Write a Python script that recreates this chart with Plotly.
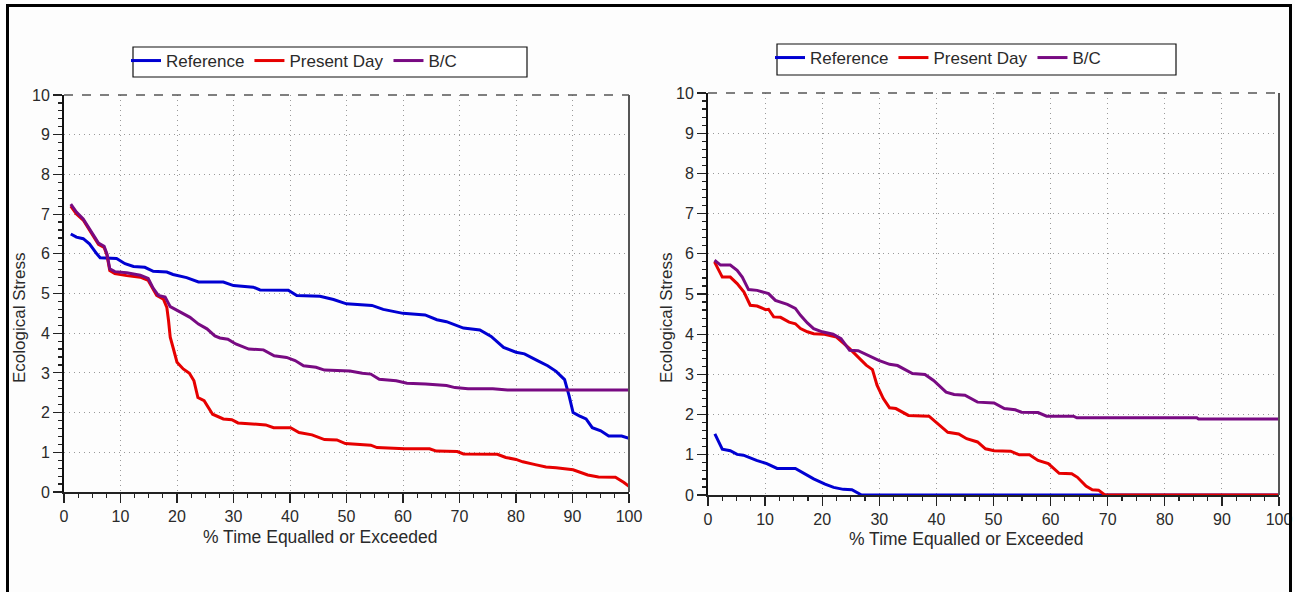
import plotly.graph_objects as go

# ---------------- data ----------------
# Left panel
L_ref_x = [1.2, 2.2, 3.4, 4.5, 5.8, 6.4, 9.3, 10.8, 12.3, 14.3, 15.8, 18.2, 19.3, 21.7, 23.8, 28.2, 30.0,
           33.5, 34.7, 39.7, 41.2, 45.3, 47.7, 50.0, 54.5, 56.5, 60.0, 63.9, 66.0, 67.7, 70.7, 73.6, 75.6,
           77.8, 80.0, 81.5, 83.8, 85.6, 87.1, 88.6, 89.4, 90.1, 91.2, 92.4, 93.5, 95.0, 96.4, 98.7, 100]
L_ref_y = [6.5, 6.42, 6.38, 6.25, 6.0, 5.9, 5.88, 5.75, 5.68, 5.66, 5.56, 5.54, 5.48, 5.4, 5.29, 5.29, 5.2,
           5.16, 5.09, 5.08, 4.95, 4.93, 4.85, 4.74, 4.7, 4.6, 4.5, 4.46, 4.34, 4.29, 4.13, 4.08, 3.92,
           3.64, 3.52, 3.48, 3.31, 3.18, 3.04, 2.83, 2.42, 2.0, 1.92, 1.84, 1.62, 1.54, 1.41, 1.41, 1.35]

L_pd_x = [1.2, 2.2, 3.4, 4.3, 5.2, 6.1, 7.1, 7.6, 8.1, 9.0, 11.1, 13.5, 14.9, 15.8, 16.4, 17.6, 18.2, 18.5,
          18.8, 19.3, 20.0, 21.1, 22.2, 23.0, 23.7, 24.8, 25.6, 26.3, 28.2, 29.7, 30.8, 33.4, 35.7, 37.1,
          40.1, 41.6, 43.9, 46.1, 48.3, 49.8, 54.3, 55.4, 60.3, 64.7, 65.9, 69.6, 70.7, 76.7, 78.2, 80.0,
          81.2, 83.4, 85.3, 87.1, 90.1, 92.7, 94.6, 97.6, 99.1, 100]
L_pd_y = [7.2, 7.0, 6.85, 6.64, 6.43, 6.24, 6.16, 5.97, 5.58, 5.5, 5.45, 5.41, 5.33, 5.12, 4.95, 4.86, 4.65,
          4.32, 3.9, 3.64, 3.27, 3.1, 2.99, 2.8, 2.38, 2.3, 2.13, 1.96, 1.84, 1.82, 1.74, 1.72, 1.69, 1.62,
          1.62, 1.5, 1.44, 1.32, 1.31, 1.22, 1.18, 1.12, 1.09, 1.09, 1.03, 1.02, 0.96, 0.95, 0.87, 0.82,
          0.76, 0.69, 0.63, 0.61, 0.56, 0.43, 0.38, 0.37, 0.24, 0.14]

L_bc_x = [1.2, 2.2, 3.4, 4.3, 5.2, 6.1, 7.1, 7.6, 8.1, 9.0, 11.1, 13.5, 14.9, 15.8, 16.7, 17.9, 18.8, 20.5,
          22.3, 23.8, 25.3, 26.7, 27.6, 29.0, 30.4, 32.7, 35.3, 37.2, 39.4, 40.9, 42.4, 44.6, 46.1, 50.6,
          52.8, 54.3, 55.8, 58.8, 60.7, 64.0, 65.1, 67.7, 69.2, 71.5, 75.9, 78.5, 100]
L_bc_y = [7.25, 7.05, 6.88, 6.67, 6.46, 6.27, 6.19, 6.0, 5.62, 5.55, 5.52, 5.46, 5.38, 5.13, 4.95, 4.91, 4.67,
          4.53, 4.4, 4.23, 4.11, 3.93, 3.88, 3.85, 3.73, 3.6, 3.58, 3.43, 3.39, 3.31, 3.18, 3.14, 3.07, 3.05,
          2.99, 2.97, 2.84, 2.8, 2.74, 2.72, 2.71, 2.68, 2.63, 2.6, 2.6, 2.57, 2.57]

# Right panel
R_ref_x = [1.2, 1.7, 2.5, 3.9, 5.1, 6.2, 8.5, 10.3, 12.1, 15.3, 16.8, 18.5, 20.5, 22.0, 23.7, 25.2, 26.9, 100]
R_ref_y = [1.52, 1.36, 1.14, 1.1, 1.01, 0.99, 0.86, 0.78, 0.66, 0.66, 0.53, 0.40, 0.27, 0.19, 0.14, 0.13, 0.0, 0.0]

R_pd_x = [1.14, 2.5, 3.9, 5.1, 6.3, 7.4, 8.6, 10.1, 10.6, 11.5, 12.7, 14.2, 15.3, 16.2, 17.4, 18.5, 20.4,
          22.5, 24.8, 26.3, 27.7, 28.8, 29.6, 30.7, 31.8, 32.9, 35.1, 38.7, 40.2, 42.0, 43.9, 45.3, 47.2,
          48.6, 50.1, 53.0, 54.5, 56.3, 57.8, 59.6, 61.5, 63.7, 64.7, 66.2, 67.3, 68.4, 69.5, 100]
R_pd_y = [5.8, 5.42, 5.42, 5.26, 5.05, 4.72, 4.7, 4.61, 4.62, 4.43, 4.42, 4.3, 4.26, 4.14, 4.06, 4.01, 4.0,
          3.93, 3.64, 3.43, 3.23, 3.12, 2.73, 2.4, 2.17, 2.15, 1.98, 1.96, 1.77, 1.56, 1.52, 1.4, 1.32,
          1.15, 1.1, 1.09, 1.0, 1.0, 0.86, 0.78, 0.54, 0.53, 0.44, 0.22, 0.13, 0.12, 0.0, 0.0]

R_bc_x = [1.14, 2.2, 3.9, 5.1, 6.0, 7.1, 8.6, 10.6, 11.8, 13.9, 15.3, 16.2, 17.4, 18.5, 20.0, 21.9, 23.3,
          24.8, 26.3, 28.1, 29.9, 31.8, 33.2, 35.8, 38.0, 39.5, 41.7, 43.1, 45.0, 47.2, 50.1, 51.9, 53.8,
          54.9, 57.8, 59.3, 64.0, 64.6, 85.6, 85.9, 100]
R_bc_y = [5.84, 5.72, 5.72, 5.59, 5.42, 5.11, 5.09, 5.01, 4.84, 4.74, 4.64, 4.47, 4.28, 4.14, 4.06, 4.0, 3.89,
          3.6, 3.59, 3.47, 3.35, 3.25, 3.22, 3.02, 3.0, 2.85, 2.56, 2.5, 2.48, 2.31, 2.29, 2.15, 2.12,
          2.06, 2.05, 1.96, 1.96, 1.92, 1.92, 1.89, 1.89]

SERIES = ["Reference", "Present Day", "B/C"]
COLORS = ["#0000d2", "#e60000", "#780a82"]
X_TITLE = "% Time Equalled or Exceeded"
Y_TITLE = "Ecological Stress"

# ---------------- figure ----------------
W, H = 1295, 592
FONT = "Arial, Liberation Sans, sans-serif"
TXT = "#2a2a2a"

def px(x):
    return x / W

def py(y):
    return 1 - y / H

fig = go.Figure()

panels = [
    ("x", "y", "legend", [(L_ref_x, L_ref_y), (L_pd_x, L_pd_y), (L_bc_x, L_bc_y)]),
    ("x2", "y2", "legend2", [(R_ref_x, R_ref_y), (R_pd_x, R_pd_y), (R_bc_x, R_bc_y)]),
]
for xa, ya, lg, data in panels:
    for name, col, (xs, ys) in zip(SERIES, COLORS, data):
        fig.add_trace(go.Scatter(x=xs, y=ys, name=name, mode="lines",
                                 line=dict(color=col, width=3),
                                 xaxis=xa, yaxis=ya, legend=lg, showlegend=True))

GRID = dict(showgrid=True, gridcolor="#9a9a9a", griddash="1px,4px", gridwidth=1)

def xaxis(domain, anchor):
    return dict(domain=domain, anchor=anchor, range=[0, 100], tick0=0, dtick=10,
                ticks="outside", ticklen=9, tickwidth=1.2, tickcolor="#222",
                minor=dict(dtick=2.5, ticks="outside", ticklen=4, tickwidth=1.2, tickcolor="#222", showgrid=False),
                showline=True, linecolor="#222", linewidth=2, zeroline=False,
                tickfont=dict(family=FONT, size=16, color=TXT), fixedrange=True, **GRID)

def yaxis(domain, anchor):
    return dict(domain=domain, anchor=anchor, range=[0, 10], tick0=0, dtick=1,
                ticks="outside", ticklen=9, tickwidth=1.2, tickcolor="#222",
                minor=dict(dtick=0.2, ticks="outside", ticklen=4, tickwidth=1.2, tickcolor="#222", showgrid=False),
                showline=True, linecolor="#111", linewidth=2, zeroline=False,
                tickfont=dict(family=FONT, size=16, color=TXT), fixedrange=True, **GRID)

L_X = [px(64), px(629)]
L_Y = [py(492), py(95)]
R_X = [px(708), px(1279)]
R_Y = [py(495), py(93)]

legend_common = dict(orientation="h", xanchor="left", yanchor="top",
                     bgcolor="rgba(0,0,0,0)", borderwidth=0,
                     font=dict(family=FONT, size=17, color=TXT),
                     itemwidth=30, tracegroupgap=0, itemclick=False, itemdoubleclick=False)

shapes = []
# legend boxes
shapes.append(dict(type="rect", xref="paper", yref="paper", x0=px(133), x1=px(527), y0=py(77), y1=py(47),
                   line=dict(color="#111", width=1.2), fillcolor="white", layer="below"))
shapes.append(dict(type="rect", xref="paper", yref="paper", x0=px(777), x1=px(1176), y0=py(75), y1=py(44),
                   line=dict(color="#111", width=1.2), fillcolor="white", layer="below"))
# top dashed border and right solid border of each plot area
for xr, yr in (("x", "y"), ("x2", "y2")):
    shapes.append(dict(type="line", xref=xr + " domain", yref=yr + " domain", x0=0, x1=1, y0=1, y1=1,
                       line=dict(color="#555", width=1.5, dash="dash")))
    shapes.append(dict(type="line", xref=xr + " domain", yref=yr + " domain", x0=1, x1=1, y0=0, y1=1,
                       line=dict(color="#555", width=2)))
# outer frame of the picture
shapes.append(dict(type="rect", xref="paper", yref="paper", x0=px(7.5), x1=px(1290.5), y0=-0.05, y1=py(5.5),
                   line=dict(color="black", width=3), fillcolor="rgba(0,0,0,0)"))

annotations = []
for cx, cy in ((320, 537), (966, 539)):
    annotations.append(dict(text=X_TITLE, x=px(cx), y=py(cy), xref="paper", yref="paper",
                            xanchor="center", yanchor="middle", showarrow=False,
                            font=dict(family=FONT, size=17.5, color=TXT)))
for cx, cy in ((19, 318), (666, 318)):
    annotations.append(dict(text=Y_TITLE, x=px(cx), y=py(cy), xref="paper", yref="paper",
                            xanchor="center", yanchor="middle", showarrow=False, textangle=-90,
                            font=dict(family=FONT, size=17, color=TXT)))

fig.update_layout(
    width=W, height=H,
    margin=dict(l=0, r=0, t=0, b=0, autoexpand=False),
    paper_bgcolor="#fdfdfd", plot_bgcolor="#fdfdfd",
    xaxis=xaxis(L_X, "y"), yaxis=yaxis(L_Y, "x"),
    xaxis2=xaxis(R_X, "y2"), yaxis2=yaxis(R_Y, "x2"),
    legend=dict(x=px(126), y=py(43), **legend_common),
    legend2=dict(x=px(770), y=py(40), **legend_common),
    shapes=shapes, annotations=annotations,
    showlegend=True, hovermode=False,
)

fig.write_html("out.html", config=dict(displayModeBar=False, staticPlot=True))
